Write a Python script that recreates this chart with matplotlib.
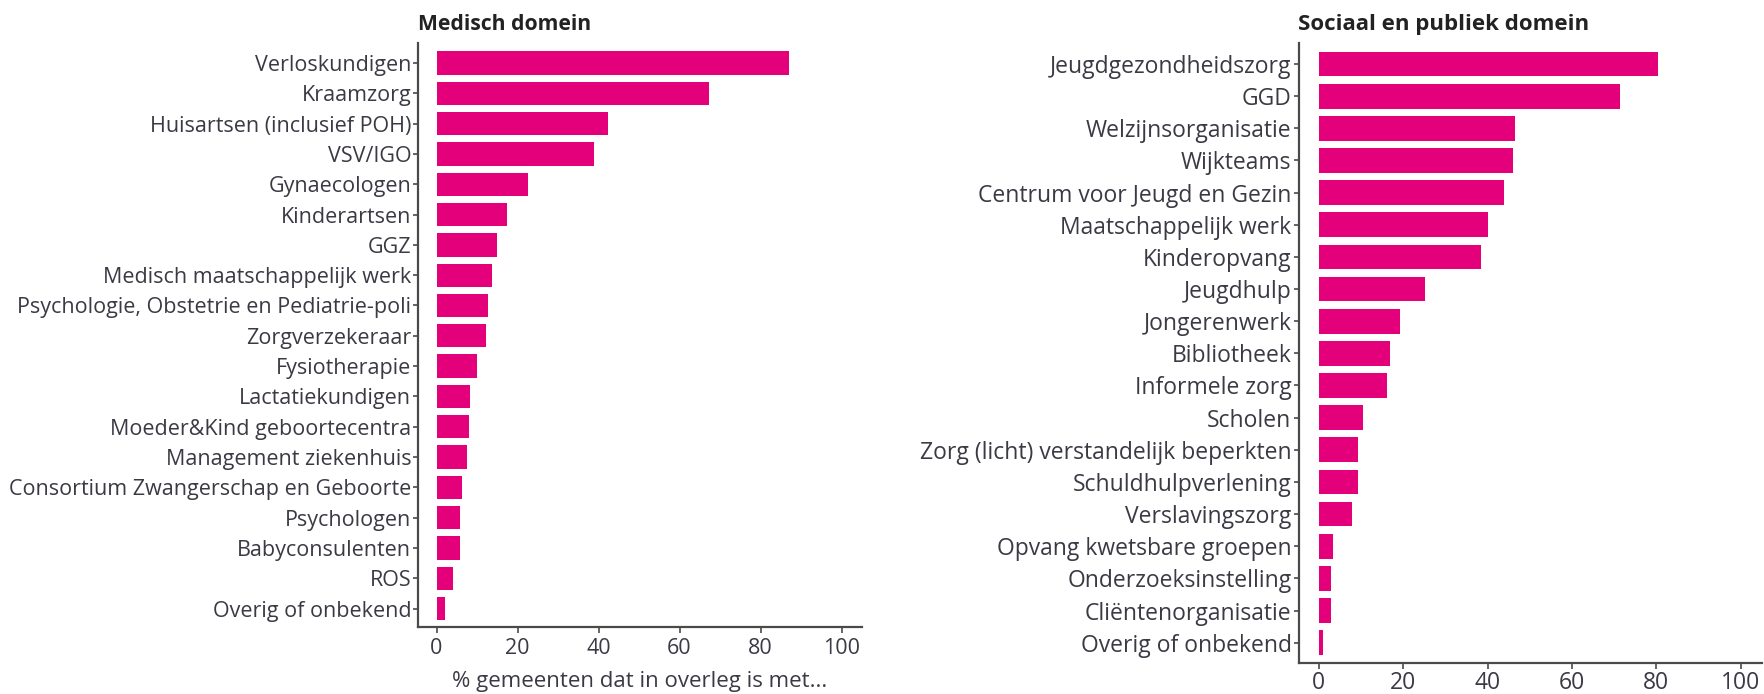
import matplotlib
matplotlib.use("Agg")
import matplotlib.pyplot as plt
from matplotlib import font_manager

# ---------------- data ----------------
med_labels = [
    "Verloskundigen", "Kraamzorg", "Huisartsen (inclusief POH)", "VSV/IGO",
    "Gynaecologen", "Kinderartsen", "GGZ", "Medisch maatschappelijk werk",
    "Psychologie, Obstetrie en Pediatrie-poli", "Zorgverzekeraar", "Fysiotherapie",
    "Lactatiekundigen", "Moeder&Kind geboortecentra", "Management ziekenhuis",
    "Consortium Zwangerschap en Geboorte", "Psychologen", "Babyconsulenten",
    "ROS", "Overig of onbekend",
]
med_values = [87.0, 67.2, 42.4, 38.8, 22.5, 17.4, 15.0, 13.7, 12.6, 12.2,
              10.0, 8.3, 7.9, 7.5, 6.4, 5.9, 5.9, 4.0, 2.0]

soc_labels = [
    "Jeugdgezondheidszorg", "GGD", "Welzijnsorganisatie", "Wijkteams",
    "Centrum voor Jeugd en Gezin", "Maatschappelijk werk", "Kinderopvang",
    "Jeugdhulp", "Jongerenwerk", "Bibliotheek", "Informele zorg", "Scholen",
    "Zorg (licht) verstandelijk beperkten", "Schuldhulpverlening",
    "Verslavingszorg", "Opvang kwetsbare groepen", "Onderzoeksinstelling",
    "Cliëntenorganisatie", "Overig of onbekend",
]
soc_values = [80.4, 71.4, 46.4, 46.0, 44.0, 40.0, 38.4, 25.2, 19.3, 16.9,
              16.1, 10.4, 9.3, 9.3, 7.9, 3.3, 3.0, 3.0, 0.9]

x_ticks = [0, 20, 40, 60, 80, 100]
titles = ["Medisch domein", "Sociaal en publiek domein"]
xlabel_left = "% gemeenten dat in overleg is met..."

# ---------------- style ----------------
available = {f.name for f in font_manager.fontManager.ttflist}
family = None
for cand in ["Liberation Sans Narrow", "DejaVu Sans Condensed", "Open Sans", "Lato", "DejaVu Sans"]:
    if cand in available:
        family = cand
        break
plt.rcParams['font.family'] = [family, 'DejaVu Sans']

BAR = "#E5007B"
TXT = "#3a3a44"
SPINE = "#4a4a4a"

W, H = 1764, 694
fig = plt.figure(figsize=(W / 100, H / 100), dpi=100)
fig.patch.set_facecolor("white")


def px_axes(x0, x1, ytop, ybot):
    return fig.add_axes([x0 / W, (H - ybot) / H, (x1 - x0) / W, (ybot - ytop) / H])


ax1 = px_axes(418.3, 861.8, 43, 627)
ax2 = px_axes(1298.5, 1761.8, 43, 662.7)

for ax, labels, values, title, ylim, xlim, fs, tfs, xpad in [
    (ax1, med_labels, med_values, titles[0], (18.607, -0.66), (-4.5, 105), 15.5, 15.2, 4),
    (ax2, soc_labels, soc_values, titles[1], (18.622, -0.653), (-4.8, 105), 16.5, 16.0, 2),
]:
    pos = list(range(len(labels)))
    ax.barh(pos, values, height=0.77, color=BAR, zorder=2)
    ax.set_yticks(pos)
    ax.set_yticklabels(labels, fontsize=fs, color=TXT)
    ax.set_xticks(x_ticks)
    ax.set_xticklabels([str(t) for t in x_ticks], fontsize=fs, color=TXT)
    ax.set_xlim(*xlim)
    ax.set_ylim(*ylim)
    for s in ["top", "right"]:
        ax.spines[s].set_visible(False)
    for s in ["left", "bottom"]:
        ax.spines[s].set_color(SPINE)
        ax.spines[s].set_linewidth(1.6)
    ax.tick_params(axis="y", length=3.5, width=1.2, color=SPINE, pad=1.5)
    ax.tick_params(axis="x", length=4, width=1.2, color=SPINE, pad=xpad)
    ax.set_facecolor("white")
    ax.annotate(title, xy=(0, 1), xycoords="axes fraction",
                xytext=(0, 13), textcoords="offset points",
                ha="left", va="center", fontsize=tfs, fontweight="bold", color="#222222")

ax1.annotate(xlabel_left, xy=(0.5, 0), xycoords="axes fraction",
             xytext=(0, -32), textcoords="offset points",
             ha="center", va="top", fontsize=16, color=TXT)

fig.savefig("out.png", dpi=100, facecolor="white")
